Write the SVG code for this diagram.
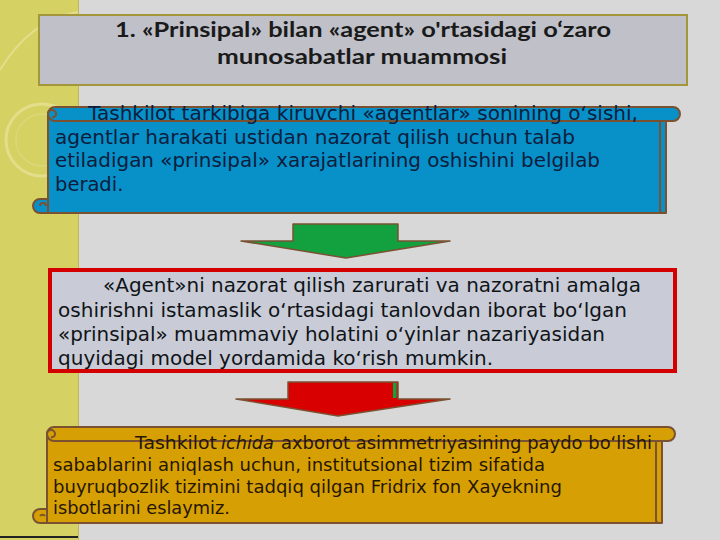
<svg xmlns="http://www.w3.org/2000/svg" width="720" height="540" viewBox="0 0 720 540">
<style>
.body{font-family:"DejaVu Sans","Liberation Sans",sans-serif;font-size:19.5px;}
.blue{fill:#0b1d3c;}
.red{fill:#101418;}
.orng{font-family:"DejaVu Sans","Liberation Sans",sans-serif;font-size:17px;fill:#261600;}
.title{font-family:Lato,"Open Sans","Liberation Sans",sans-serif;font-size:20.5px;font-weight:bold;fill:#1a1a1a;}
.edge{stroke:#7a5232;stroke-width:2;stroke-linejoin:round;}
</style>
<rect x="0" y="0" width="720" height="540" fill="#d8d8d8"/>
<g id="left-strip">
<rect x="0" y="0" width="78" height="540" fill="#d6d163"/>
<line x1="78.5" y1="0" x2="78.5" y2="540" stroke="#bdb95a" stroke-width="1"/>
<circle cx="42" cy="140" r="36" fill="none" stroke="#e2de8c" stroke-width="3"/>
<circle cx="42" cy="140" r="26" fill="none" stroke="#dcd87a" stroke-width="1.5"/>
<path d="M0 70 Q30 20 78 12" fill="none" stroke="#e2de8c" stroke-width="2"/>
<line x1="0" y1="537" x2="78" y2="537" stroke="#222" stroke-width="2"/>
</g>
<g id="title">
<rect x="39" y="15" width="648" height="70" fill="#bfc0c8" stroke="#a4963a" stroke-width="2"/>
<text class="title" x="363" y="36.5" text-anchor="middle" textLength="496" lengthAdjust="spacingAndGlyphs">1. «Prinsipal» bilan «agent» o'rtasidagi o‘zaro</text>
<text class="title" x="362" y="64" text-anchor="middle" textLength="290" lengthAdjust="spacingAndGlyphs">munosabatlar muammosi</text>
</g>
<g id="box-blue">
<path d="M48 114 L666 114 L666 213 L40 213 A7 7 0 0 1 40 199 L48 199 Z" fill="#0890c9" class="edge"/>
<path d="M660 121 L660 210 Q660 213 663 213" fill="none" class="edge" stroke-width="1.5"/>
<rect x="48" y="107" width="632" height="14" rx="7" fill="#0890c9" class="edge"/>
<path d="M48 114 A4 4 0 0 1 56 114 A3 3 0 0 1 52 117" fill="none" class="edge" stroke-width="1.5"/>
<path d="M48 199 L48 213 M40 206 A3 3 0 0 1 46 206" fill="none" class="edge" stroke-width="1.5"/>
<text class="body blue" x="88" y="120" textLength="550" lengthAdjust="spacingAndGlyphs">Tashkilot tarkibiga kiruvchi «agentlar» sonining o‘sishi,</text>
<text class="body blue" x="55" y="143.5" textLength="520" lengthAdjust="spacingAndGlyphs">agentlar harakati ustidan nazorat qilish uchun talab</text>
<text class="body blue" x="55" y="167" textLength="545" lengthAdjust="spacingAndGlyphs">etiladigan «prinsipal» xarajatlarining oshishini belgilab</text>
<text class="body blue" x="55" y="190.5">beradi.</text>
</g>
<g id="box-red">
<rect x="50" y="270" width="625" height="101" fill="#c9ccd6" stroke="#d40000" stroke-width="4"/>
<text class="body red" x="103" y="292" textLength="538" lengthAdjust="spacingAndGlyphs">«Agent»ni nazorat qilish zarurati va nazoratni amalga</text>
<text class="body red" x="58" y="317" textLength="569" lengthAdjust="spacingAndGlyphs">oshirishni istamaslik o‘rtasidagi tanlovdan iborat bo‘lgan</text>
<text class="body red" x="58" y="341" textLength="547" lengthAdjust="spacingAndGlyphs">«prinsipal» muammaviy holatini o‘yinlar nazariyasidan</text>
<text class="body red" x="58" y="365" textLength="435" lengthAdjust="spacingAndGlyphs">quyidagi model yordamida ko‘rish mumkin.</text>
</g>
<g id="box-orange">
<path d="M47 434 L662 434 L662 523 L40 523 A7 7 0 0 1 40 509 L47 509 Z" fill="#d6a004" class="edge"/>
<path d="M656 441 L656 520 Q656 523 659 523" fill="none" class="edge" stroke-width="1.5"/>
<rect x="47" y="427" width="628" height="14" rx="7" fill="#d6a004" class="edge"/>
<path d="M47 434 A4 4 0 0 1 55 434 A3 3 0 0 1 51 437" fill="none" class="edge" stroke-width="1.5"/>
<path d="M47 509 L47 523 M40 516 A3 3 0 0 1 45 516" fill="none" class="edge" stroke-width="1.5"/>
<text class="orng" y="449"><tspan x="135" textLength="82" lengthAdjust="spacingAndGlyphs">Tashkilot</tspan> <tspan x="221" font-style="italic" textLength="53" lengthAdjust="spacingAndGlyphs">ichida</tspan> <tspan x="281" textLength="371" lengthAdjust="spacingAndGlyphs">axborot asimmetriyasining paydo bo‘lishi</tspan></text>
<text class="orng" x="53" y="471" textLength="492" lengthAdjust="spacingAndGlyphs">sabablarini aniqlash uchun, institutsional tizim sifatida</text>
<text class="orng" x="53" y="492.5" textLength="509" lengthAdjust="spacingAndGlyphs">buyruqbozlik tizimini tadqiq qilgan Fridrix fon Xayekning</text>
<text class="orng" x="53" y="514" textLength="177" lengthAdjust="spacingAndGlyphs">isbotlarini eslaymiz.</text>
</g>
<g id="connectors">
<path d="M293 224 L398 224 L398 241 L450 241 L346 258 L241 241 L293 241 Z" fill="#12a13e" stroke="#7a5232" stroke-width="1.5" stroke-linejoin="round"/>
<path d="M288 382 L398 382 L398 399 L450 399 L338 416 L236 399 L288 399 Z" fill="#d80000" stroke="#7a5232" stroke-width="1.5" stroke-linejoin="round"/>
<rect x="393" y="383" width="3.5" height="15" fill="#12a13e"/>
</g>
</svg>
